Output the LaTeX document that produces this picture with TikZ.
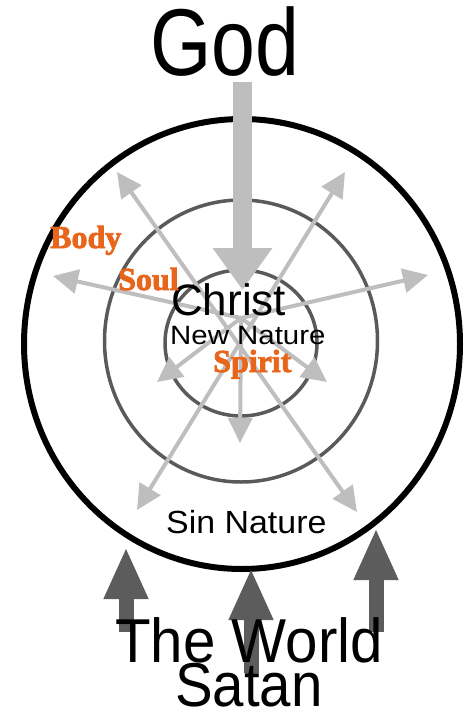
\documentclass[tikz,border=0pt]{standalone}
\usepackage{fontspec}
\setmainfont{Liberation Sans}
\newfontfamily\partfont{Liberation Serif}[BoldFeatures={FakeBold=2.5}]
\usetikzlibrary{arrows.meta}
\definecolor{SoulOrange}{HTML}{E8661C}
\definecolor{SpokeGray}{HTML}{BEBEBE}
\definecolor{RingGray}{HTML}{5A5A5A}
\definecolor{WorldGray}{HTML}{5C5C5C}
\tikzset{
  outerring/.style={draw=black,line width=6pt},
  ringline/.style={draw=RingGray,line width=3.5pt},
  spoke/.style={draw=SpokeGray,line width=4pt,-{Triangle[length=25pt,width=24pt]}},
  spokeboth/.style={spoke,{Triangle[length=25pt,width=24pt]}-{Triangle[length=25pt,width=24pt]}},
  godarrow/.style={draw=SpokeGray,line width=19pt,-{Triangle[length=42pt,width=57pt]}},
  worldarrow/.style={draw=WorldGray,line width=15pt,-{Triangle[length=52pt,width=41pt]}},
  word/.style={inner sep=0pt,anchor=base west,text=black},
  partword/.style={word,text=SoulOrange,font=\partfont\bfseries\fontsize{32}{32}\selectfont}
}

\begin{document}
\begin{tikzpicture}[x=1pt,y=-1pt]
  \useasboundingbox (0,0) rectangle (468,717);

  % the three rings
  \draw[outerring] (242,344) ellipse [x radius=218,y radius=225];
  \draw[ringline] (241,341) ellipse [x radius=136.5,y radius=141];
  \draw[ringline] (241,343) ellipse [x radius=76,y radius=73];

  % spokes from the centre
  \coordinate (hub) at (241,318);
  \coordinate (ulTip) at (117,172);
  \coordinate (urTip) at (345,172);
  \coordinate (llTip) at (137,510);
  \coordinate (lrTip) at (357,512);
  \coordinate (leftTip) at (53,276);
  \coordinate (rightTip) at (428,275);
  \coordinate (downTip) at (240,443);
  \coordinate (inLeftTip) at (157,382);
  \coordinate (inRightTip) at (327,382);
  \draw[spokeboth] (ulTip) -- (lrTip);
  \draw[spokeboth] (urTip) -- (llTip);
  \draw[spoke] (hub) -- (leftTip);
  \draw[spoke] (hub) -- (rightTip);
  \draw[spoke] (hub) -- (downTip);
  \draw[spoke] (hub) -- (inLeftTip);
  \draw[spoke] (hub) -- (inRightTip);

  % from above
  \coordinate (godFoot) at (242.5,82);
  \coordinate (godTip) at (242.5,290);
  \draw[godarrow] (godFoot) -- (godTip);

  % from below
  \coordinate (worldA) at (126,632);
  \coordinate (worldAtip) at (126,547);
  \coordinate (worldB) at (251,673);
  \coordinate (worldBtip) at (251,568);
  \coordinate (worldC) at (376,632);
  \coordinate (worldCtip) at (376,528);
  \draw[worldarrow] (worldA) -- (worldAtip);
  \draw[worldarrow] (worldB) -- (worldBtip);
  \draw[worldarrow] (worldC) -- (worldCtip);

  % words
  \node[word,font=\fontsize{95}{95}\selectfont] (god) at (150,75) {\scalebox{0.83}[1]{God}};
  \node[word,font=\fontsize{44}{44}\selectfont] (christ) at (171,315) {Christ};
  \node[word,font=\fontsize{26.5}{26.5}\selectfont] (newNature) at (170,344) {\scalebox{1.11}[1]{New Nature}};
  \node[word,font=\fontsize{32}{32}\selectfont] (sinNature) at (166,533) {\scalebox{1.06}[1]{Sin Nature}};
  \node[word,font=\fontsize{62}{62}\selectfont] (world) at (115,662) {\scalebox{0.94}[1]{The World}};
  \node[word,font=\fontsize{62}{62}\selectfont] (satan) at (175,706) {\scalebox{0.91}[1]{Satan}};
  \node[partword] (body) at (50,248) {Body};
  \node[partword] (soul) at (118,290) {Soul};
  \node[partword] (spirit) at (213,372) {Spirit};
\end{tikzpicture}
\end{document}
